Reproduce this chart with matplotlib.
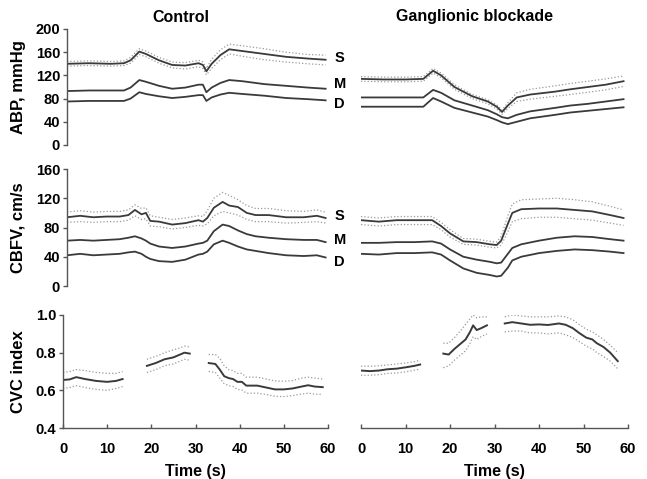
# -*- coding: utf-8 -*-
################################################################################
#              ABP / CBFV / CVC  -  CONTROL vs GANGLIONIC BLOCKADE             #
################################################################################

import numpy as np
import matplotlib
matplotlib.use('Agg')
import matplotlib.pyplot as plt

plt.rcParams['font.family'] = ['Liberation Sans', 'DejaVu Sans']
plt.rcParams['font.weight'] = 'bold'

################################################################################
#                                     DATA                                     #
################################################################################

# ABP, control
t_abp_c  = [0, 5, 10, 13, 14.5, 16.5, 18, 21, 24, 27, 30, 31, 31.8, 33, 35, 37, 40, 45, 50, 55, 59]
abp_c_S  = [140, 141, 140, 141, 146, 161, 157, 146, 138, 137, 141, 138, 127, 140, 155, 165, 162, 157, 152, 149, 147]
abp_c_Sh = [144, 145, 144, 145, 151, 166, 162, 151, 143, 142, 146, 143, 132, 148, 164, 174, 171, 166, 160, 156, 155]
abp_c_Sl = [136, 137, 136, 137, 141, 156, 152, 141, 133, 131, 135, 132, 121, 132, 147, 157, 153, 147, 143, 140, 138]
abp_c_M  = [93, 94, 94, 94, 99, 112, 109, 102, 97, 99, 104, 104, 91, 99, 107, 112, 110, 105, 102, 99, 97]
abp_c_D  = [75, 76, 76, 76, 80, 91, 88, 84, 81, 83, 86, 86, 76, 82, 87, 90, 88, 85, 81, 79, 77]

# ABP, ganglionic blockade
t_abp_g  = [0, 5, 10, 14, 16.2, 18, 21, 25, 28.5, 30.5, 31.7, 33, 35, 38, 43.6, 47, 51, 55, 59]
abp_g_S  = [114, 113, 113, 114, 128, 120, 100, 84, 75, 66, 57, 68, 82, 87, 92, 96, 100, 104, 110]
abp_g_Sh = [118, 117, 117, 118, 132, 124, 104, 87, 78, 69, 60, 73, 90, 96, 102, 106, 110, 114, 119]
abp_g_Sl = [110, 109, 109, 110, 124, 116, 96, 80, 71, 62, 53, 63, 75, 79, 84, 87, 91, 95, 101]
abp_g_M  = [82, 82, 82, 82, 95, 90, 77, 68, 60, 53, 48, 46, 52, 58, 64, 68, 71, 75, 79]
abp_g_D  = [66, 66, 66, 66, 81, 75, 64, 56, 49, 43, 39, 36, 40, 46, 52, 56, 59, 62, 65]

# CBFV, control
t_cb_c  = [0, 3, 6, 9, 12, 14, 15.5, 17, 18, 19, 21, 24, 27, 30, 31, 32, 33.5, 35.5, 37, 39, 41, 43, 46, 50, 54, 57, 59]
cb_c_S  = [94, 96, 94, 95, 95, 97, 104, 98, 100, 89, 88, 84, 86, 90, 88, 93, 107, 115, 110, 108, 100, 97, 97, 94, 94, 96, 93]
cb_c_Sh = [101, 103, 101, 102, 102, 104, 111, 106, 107, 96, 94, 91, 93, 96, 95, 103, 120, 128, 124, 118, 110, 106, 106, 103, 102, 104, 101]
cb_c_Sl = [87, 88, 87, 88, 88, 90, 96, 91, 92, 82, 81, 78, 80, 83, 82, 85, 96, 102, 100, 97, 91, 88, 88, 86, 87, 88, 86]
cb_c_M  = [62, 63, 62, 63, 64, 66, 68, 65, 62, 58, 54, 52, 54, 58, 59, 62, 75, 84, 82, 76, 71, 68, 66, 64, 63, 63, 60]
cb_c_D  = [42, 44, 42, 43, 44, 46, 47, 44, 40, 37, 34, 33, 36, 43, 44, 47, 57, 62, 59, 54, 50, 48, 45, 42, 41, 42, 39]

# CBFV, ganglionic blockade
t_cb_g  = [0, 4, 8, 12, 16, 18, 20, 23, 26, 29, 30.5, 31.5, 33, 34, 36, 40, 44, 48, 52, 56, 59]
cb_g_S  = [90, 88, 90, 90, 90, 82, 72, 61, 60, 57, 56, 62, 85, 100, 105, 106, 106, 104, 102, 97, 93]
cb_g_Sh = [95, 93, 95, 95, 95, 87, 77, 65, 64, 61, 60, 68, 96, 112, 118, 119, 120, 118, 115, 109, 104]
cb_g_Sl = [84, 82, 84, 84, 84, 77, 67, 57, 56, 53, 52, 56, 74, 88, 92, 94, 94, 92, 90, 86, 83]
cb_g_M  = [59, 59, 60, 60, 61, 58, 50, 40, 36, 33, 31, 32, 44, 52, 57, 62, 66, 68, 67, 64, 62]
cb_g_D  = [44, 43, 45, 45, 46, 43, 35, 24, 18, 15, 13, 14, 25, 35, 40, 45, 48, 50, 49, 47, 45]

# CVC index, control (three segments)
t_cvc_c  = [[0, 1.5, 3, 5, 7.5, 10, 12, 13.5],
            [19, 21, 23, 25, 26.5, 27.5, 28.7],
            [33, 34.5, 35.5, 36.5, 37.5, 38.5, 39.5, 40.5, 41.5, 44, 46, 48, 50, 52, 54, 55.5, 57, 58.8]]
cvc_c    = [[0.655, 0.658, 0.67, 0.66, 0.65, 0.645, 0.65, 0.66],
            [0.73, 0.745, 0.765, 0.775, 0.79, 0.80, 0.795],
            [0.745, 0.74, 0.71, 0.675, 0.665, 0.66, 0.645, 0.645, 0.625, 0.625, 0.615, 0.605, 0.605, 0.61, 0.62, 0.627, 0.62, 0.617]]
cvc_c_hi = [[0.695, 0.70, 0.71, 0.705, 0.695, 0.69, 0.69, 0.70],
            [0.765, 0.78, 0.80, 0.815, 0.825, 0.835, 0.83],
            [0.79, 0.79, 0.77, 0.73, 0.71, 0.705, 0.69, 0.69, 0.67, 0.67, 0.66, 0.65, 0.648, 0.652, 0.665, 0.67, 0.665, 0.66]]
cvc_c_lo = [[0.61, 0.615, 0.625, 0.615, 0.605, 0.60, 0.61, 0.62],
            [0.695, 0.71, 0.73, 0.74, 0.755, 0.765, 0.76],
            [0.70, 0.695, 0.665, 0.635, 0.625, 0.62, 0.605, 0.602, 0.585, 0.585, 0.578, 0.568, 0.567, 0.572, 0.58, 0.585, 0.58, 0.578]]

# CVC index, ganglionic blockade (three segments)
t_cvc_g  = [[0, 2, 4, 6, 8, 10, 12, 13.3],
            [18.5, 19.7, 21, 22.5, 23.5, 24.5, 25.2, 26, 27, 28.3],
            [32.3, 34, 36, 38, 40, 42, 44.5, 46, 47.6, 49, 50.6, 52, 53, 54.5, 56, 57.7]]
cvc_g    = [[0.705, 0.702, 0.705, 0.712, 0.715, 0.722, 0.73, 0.737],
            [0.795, 0.79, 0.82, 0.85, 0.87, 0.91, 0.945, 0.92, 0.93, 0.945],
            [0.955, 0.962, 0.955, 0.948, 0.95, 0.947, 0.955, 0.948, 0.93, 0.905, 0.88, 0.87, 0.85, 0.83, 0.80, 0.755]]
cvc_g_hi = [[0.728, 0.728, 0.73, 0.735, 0.74, 0.745, 0.752, 0.76],
            [0.85, 0.85, 0.88, 0.92, 0.95, 0.98, 1.0, 0.985, 0.99, 0.99],
            [0.99, 1.0, 0.995, 0.99, 0.99, 0.99, 0.995, 0.99, 0.975, 0.95, 0.925, 0.91, 0.895, 0.87, 0.84, 0.80]]
cvc_g_lo = [[0.68, 0.68, 0.683, 0.69, 0.692, 0.698, 0.707, 0.713],
            [0.72, 0.73, 0.76, 0.79, 0.81, 0.85, 0.885, 0.87, 0.885, 0.9],
            [0.91, 0.915, 0.915, 0.905, 0.905, 0.9, 0.905, 0.895, 0.88, 0.86, 0.835, 0.82, 0.80, 0.78, 0.755, 0.715]]

x_ticks = [0, 10, 20, 30, 40, 50, 60]

################################################################################
#                                   FUNCTIONS                                  #
################################################################################

line_col = '#3a3a3a'
dot_col = '#9a9a9a'
axis_col = '#555555'
tick_fs = 10.5
label_fs = 12


def plot_set(ax, t, s, s_hi, s_lo, m, d):
    '''
    Plot the S line with its dotted band plus M and D lines.
    '''
    ax.plot(t, s_hi, ls=':', lw=0.9, color=dot_col)
    ax.plot(t, s_lo, ls=':', lw=0.9, color=dot_col)
    ax.plot(t, s, lw=1.3, color=line_col)
    ax.plot(t, m, lw=1.3, color=line_col)
    ax.plot(t, d, lw=1.3, color=line_col)


def plot_segments(ax, t, v, v_hi, v_lo):
    for i in range(len(t)):
        ax.plot(t[i], v_hi[i], ls=':', lw=0.9, color=dot_col)
        ax.plot(t[i], v_lo[i], ls=':', lw=0.9, color=dot_col)
        ax.plot(t[i], v[i], lw=1.4, color=line_col)


def clean_axes(ax, left=False, bottom=False):
    for side in ['top', 'right', 'left', 'bottom']:
        ax.spines[side].set_visible(False)
    ax.spines['left'].set_visible(left)
    ax.spines['bottom'].set_visible(bottom)
    for side in ['left', 'bottom']:
        ax.spines[side].set_color(axis_col)
        ax.spines[side].set_linewidth(1.0)
    ax.set_xlim(0, 60)
    if left:
        ax.tick_params(axis='y', direction='out', length=3, width=1.0,
                       color=axis_col, labelsize=tick_fs, pad=2)
    else:
        ax.set_yticks([])
    if bottom:
        ax.set_xticks(x_ticks)
        ax.tick_params(axis='x', direction='in', length=3, width=1.0,
                       color=axis_col, labelsize=tick_fs, pad=10)
        ax.set_xlabel('Time (s)', fontsize=label_fs - 0.5, fontweight='bold',
                      labelpad=6)
    else:
        ax.set_xticks([])


################################################################################
#                                    FIGURE                                    #
################################################################################

W, H = 647., 479.
fig = plt.figure(figsize=(W / 100., H / 100.), dpi=100)

def px_axes(x0, x1, y0, y1):
    # pixel box (top-left origin) -> figure fraction
    return fig.add_axes([x0 / W, 1 - y1 / H, (x1 - x0) / W, (y1 - y0) / H])

ax1 = px_axes(67, 330, 29, 145)
ax2 = px_axes(361, 628, 29, 145)
ax3 = px_axes(67, 330, 169, 286)
ax4 = px_axes(361, 628, 169, 286)
ax5 = px_axes(63, 328, 315, 428)
ax6 = px_axes(361, 628, 315, 428)

# ABP
plot_set(ax1, t_abp_c, abp_c_S, abp_c_Sh, abp_c_Sl, abp_c_M, abp_c_D)
plot_set(ax2, t_abp_g, abp_g_S, abp_g_Sh, abp_g_Sl, abp_g_M, abp_g_D)
for ax in [ax1, ax2]:
    ax.set_ylim(0, 200)
clean_axes(ax1, left=True)
clean_axes(ax2)
ax1.set_yticks([0, 40, 80, 120, 160, 200])
ax1.set_ylabel('ABP, mmHg', fontsize=label_fs, fontweight='bold')
ax1.yaxis.set_label_coords(-0.156, 0.5)

# CBFV
plot_set(ax3, t_cb_c, cb_c_S, cb_c_Sh, cb_c_Sl, cb_c_M, cb_c_D)
plot_set(ax4, t_cb_g, cb_g_S, cb_g_Sh, cb_g_Sl, cb_g_M, cb_g_D)
for ax in [ax3, ax4]:
    ax.set_ylim(0, 160)
clean_axes(ax3, left=True)
clean_axes(ax4)
ax3.set_yticks([0, 40, 80, 120, 160])
ax3.set_ylabel('CBFV, cm/s', fontsize=label_fs, fontweight='bold')
ax3.yaxis.set_label_coords(-0.156, 0.5)

# CVC index
plot_segments(ax5, t_cvc_c, cvc_c, cvc_c_hi, cvc_c_lo)
plot_segments(ax6, t_cvc_g, cvc_g, cvc_g_hi, cvc_g_lo)
for ax in [ax5, ax6]:
    ax.set_ylim(0.4, 1.0)
clean_axes(ax5, left=True, bottom=True)
clean_axes(ax6, bottom=True)
ax5.set_yticks([0.4, 0.6, 0.8, 1.0])
ax5.set_yticklabels(['0.4', '0.6', '0.8', '1.0'])
ax5.set_ylabel('CVC index', fontsize=label_fs, fontweight='bold')
ax5.yaxis.set_label_coords(-0.14, 0.5)

# S / M / D labels
for ax, ys in [(ax1, [150, 105, 71]), (ax3, [96, 63, 33])]:
    for lab, yv in zip(['S', 'M', 'D'], ys):
        ax.text(61.0, yv, lab, fontsize=10.5, fontweight='bold',
                ha='left', va='center', clip_on=False)

# Titles
fig.text(181 / W, 1 - 17 / H, 'Control', fontsize=11.5, fontweight='bold',
         ha='center', va='center')
fig.text(475 / W, 1 - 17 / H, 'Ganglionic blockade', fontsize=11.5,
         fontweight='bold', ha='center', va='center')

plt.savefig('out.png', dpi=100)
